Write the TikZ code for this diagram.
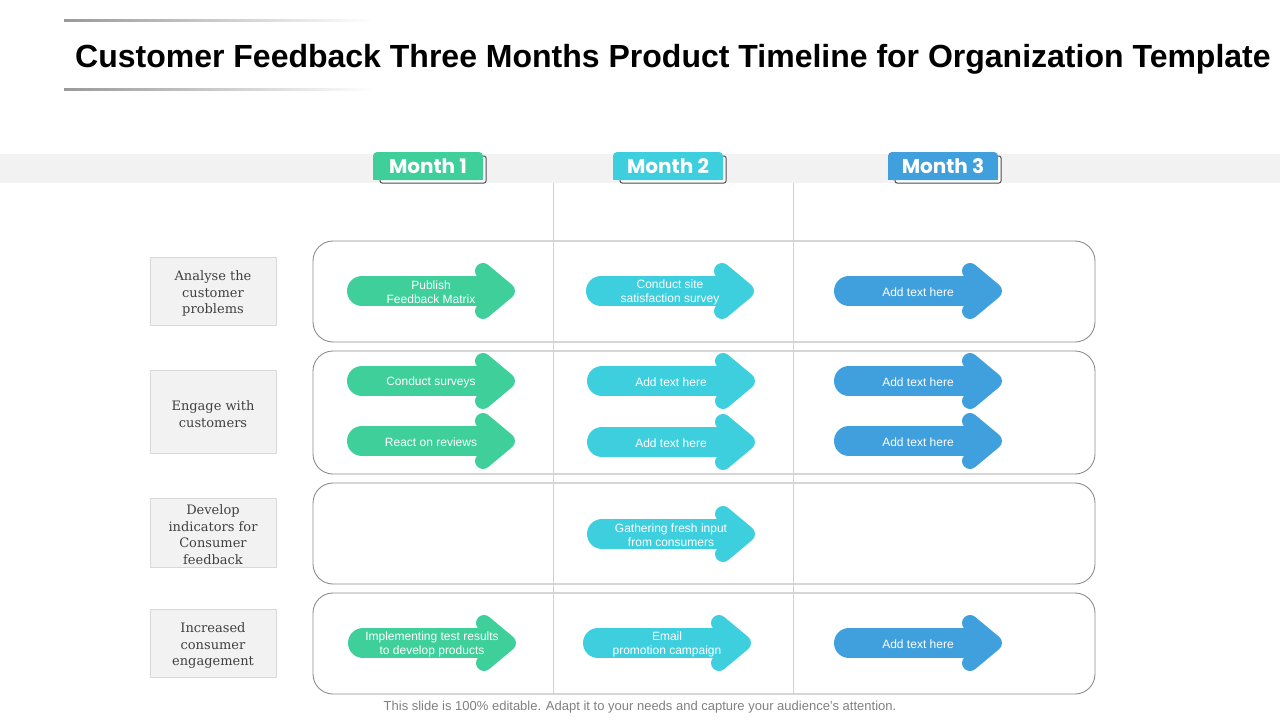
\documentclass[tikz,border=0pt]{standalone}
\usepackage{fontspec}
\setmainfont{Liberation Sans}
\newfontfamily\boxfont{DejaVu Serif}
\newfontfamily\tabfont{Poppins}
\definecolor{mgreen}{HTML}{3ECF9B}
\definecolor{mcyan}{HTML}{3ECFDF}
\definecolor{mblue}{HTML}{40A0DD}
\definecolor{bandgray}{HTML}{F2F2F2}
% arrow: name, colour, left x, centre y, text
\newcommand{\steparrow}[5]{%
  \draw[#2, line width=30, line cap=round] (#3+15,#4)--(#3+148,#4);
  \draw[#2, line width=16, line cap=round, line join=round] (#3+136,#4-20)--(#3+160,#4)--(#3+136,#4+20);
  \node[arrowtext] (#1) at (#3+84,#4+1.5) {#5};}
% month tab: name, colour, left x, text
\newcommand{\monthtab}[4]{%
  \draw[black!70, line width=1, fill=white, rounded corners=2] (#3+7,183) rectangle (#3+113,156);
  \fill[#2, rounded corners=4] (#3,180) rectangle (#3+110,152);
  \fill[#2] (#3,180) rectangle (#3+110,170);
  \node[tabtext] (#1) at (#3+55,166) {#4};}
\begin{document}
\begin{tikzpicture}[x=1pt, y=-1pt, line join=round,
  arrowtext/.style={text=white, align=center, font=\fontsize{12}{14}\selectfont},
  tabtext/.style={text=white, font=\tabfont\bfseries\fontsize{20}{22}\selectfont},
  labelbox/.style={draw=black!15, fill=bandgray, minimum width=126, inner sep=0pt},
  labeltext/.style={text=black!75, align=center, inner sep=0pt, font=\boxfont\fontsize{13}{16.6}\selectfont},
  rowframe/.style={draw=black!45, line width=0.9, rounded corners=20},
  divider/.style={black!18, line width=0.9}]
\useasboundingbox (0,0) rectangle (1280,720);
% title
\fill[left color=black!40, right color=white] (64,19) rectangle (375,21);
\fill[left color=black!40, right color=white] (64,88) rectangle (375,90);
\node[anchor=base west, inner sep=0pt, font=\bfseries\fontsize{32}{36}\selectfont] (title) at (75,67) {Customer Feedback Three Months Product Timeline for Organization Template};
% band and months
\fill[bandgray] (0,154) rectangle (1280,183);
\monthtab{m1}{mgreen}{373}{Month 1}
\monthtab{m2}{mcyan}{613}{Month 2}
\monthtab{m3}{mblue}{888}{Month 3}
% rows
\draw[rowframe] (313,241) rectangle (1095,342);
\draw[rowframe] (313,351) rectangle (1095,474);
\draw[rowframe] (313,483) rectangle (1095,584);
\draw[rowframe] (313,593) rectangle (1095,694);
\draw[divider] (553,183)--(553,695) (793,183)--(793,695);
% labels
\node[labelbox, minimum height=68] (lab1) at (213,291) {};
\node[labelbox, minimum height=83] (lab2) at (213,411.5) {};
\node[labelbox, minimum height=69] (lab3) at (213,532.5) {};
\node[labelbox, minimum height=68] (lab4) at (213,643) {};
\node[labeltext] (lab1t) at ([yshift=-2.5]lab1.center) {Analyse the\\customer\\problems};
\node[labeltext] (lab2t) at ([yshift=-2.5]lab2.center) {Engage with\\customers};
\node[labeltext] (lab3t) at ([yshift=-2]lab3.center) {Develop\\indicators for\\Consumer\\feedback};
\node[labeltext] (lab4t) at ([yshift=-2.5]lab4.center) {Increased\\consumer\\engagement};
% month 1
\steparrow{a11}{mgreen}{347}{291}{Publish\\Feedback Matrix}
\steparrow{a12}{mgreen}{347}{381}{Conduct surveys}
\steparrow{a13}{mgreen}{347}{441}{React on reviews}
\steparrow{a14}{mgreen}{348}{643}{Implementing test results\\to develop products}
% month 2
\steparrow{a21}{mcyan}{586}{291}{Conduct site\\satisfaction survey}
\steparrow{a22}{mcyan}{587}{381}{Add text here}
\steparrow{a23}{mcyan}{587}{442}{Add text here}
\steparrow{a24}{mcyan}{587}{534}{Gathering fresh input\\from consumers}
\steparrow{a25}{mcyan}{583}{643}{Email\\promotion campaign}
% month 3
\steparrow{a31}{mblue}{834}{291}{Add text here}
\steparrow{a32}{mblue}{834}{381}{Add text here}
\steparrow{a33}{mblue}{834}{441}{Add text here}
\steparrow{a34}{mblue}{834}{643}{Add text here}
% footer
\node[text=black!50, font=\fontsize{13}{15}\selectfont] (note) at (640,707) {This slide is 100\% editable. Adapt it to your needs and capture your audience's attention.};
\end{tikzpicture}
\end{document}
